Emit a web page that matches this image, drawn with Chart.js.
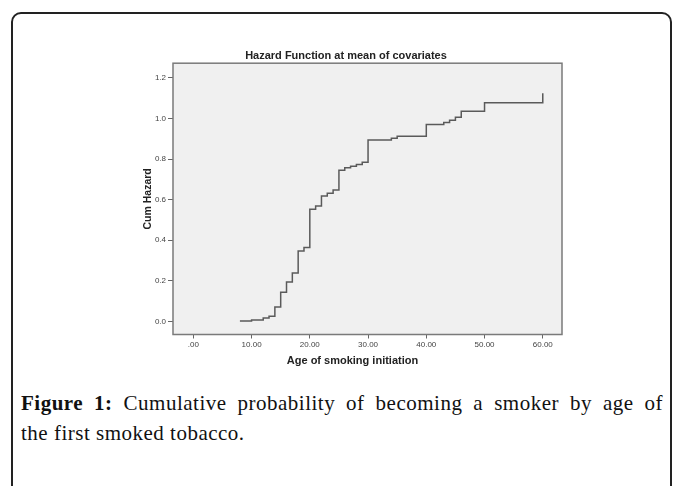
<!DOCTYPE html>
<html>
<head>
<meta charset="utf-8">
<script src="https://cdn.jsdelivr.net/npm/chart.js@4/dist/chart.umd.min.js"></script>
<style>
  html, body { margin:0; padding:0; background:#fff; width:683px; height:486px; overflow:hidden; }
  #frame { position:absolute; left:11px; top:12px; width:661px; height:500px; border:2px solid #222; border-radius:10px; box-sizing:border-box; }
  #wrap { position:absolute; left:130px; top:40px; width:436px; height:330px; }
  .cap { position:absolute; left:21px; width:642px; font-family:"Liberation Serif", serif; font-size:21px; letter-spacing:0.5px; line-height:30px; color:#111; white-space:nowrap; }
  #cap1 { top:388px; text-align:justify; text-align-last:justify; white-space:normal; }
  #cap2 { top:418px; }
</style>
</head>
<body>
<div id="frame"></div>
<div id="wrap"><canvas id="c" width="436" height="330"></canvas></div>
<div class="cap" id="cap1"><b>Figure 1:</b> Cumulative probability of becoming a smoker by age of</div>
<div class="cap" id="cap2">the first smoked tobacco.</div>
<script>
// Step points: age at which cumulative hazard steps up, and the new level
const ages   = [8, 10, 12, 13, 14, 15, 16, 17, 18, 19, 20, 21, 22, 23, 24, 25, 26, 27, 28, 29, 30, 34, 35, 40, 43, 44, 45, 46, 50, 60];
const hazard = [0.003, 0.008, 0.017, 0.026, 0.071, 0.144, 0.194, 0.239, 0.347, 0.364, 0.553, 0.569, 0.618, 0.631, 0.648, 0.745, 0.757, 0.765, 0.773, 0.784, 0.894, 0.902, 0.912, 0.970, 0.980, 0.991, 1.006, 1.035, 1.077, 1.124];
const xTicks = [0, 10, 20, 30, 40, 50, 60];
const xTickLabels = ['.00', '10.00', '20.00', '30.00', '40.00', '50.00', '60.00'];
const yTicks = [0, 0.2, 0.4, 0.6, 0.8, 1.0, 1.2];
const yTickLabels = ['0.0', '0.2', '0.4', '0.6', '0.8', '1.0', '1.2'];
const chartTitle = 'Hazard Function at mean of covariates';
const xTitle = 'Age of smoking initiation';
const yTitle = 'Cum Hazard';

const points = ages.map((a, i) => ({x: a, y: hazard[i]}));

const plotFrame = {
  id: 'plotFrame',
  beforeDatasetsDraw(chart) {
    const {ctx, chartArea: a} = chart;
    ctx.save();
    ctx.fillStyle = '#f0f0f0';
    ctx.fillRect(a.left, a.top, a.right - a.left, a.bottom - a.top);
    ctx.restore();
  },
  afterDraw(chart) {
    const {ctx, chartArea: a} = chart;
    ctx.save();
    ctx.strokeStyle = '#7a7a7a';
    ctx.lineWidth = 1.5;
    ctx.strokeRect(a.left, a.top, a.right - a.left, a.bottom - a.top);
    // x-axis title (offset left like the original)
    ctx.fillStyle = '#222';
    ctx.font = 'bold 11px "Liberation Sans", Arial, sans-serif';
    ctx.textAlign = 'center';
    ctx.textBaseline = 'middle';
    ctx.fillText(xTitle, (a.left + a.right) / 2 - 15, a.bottom + 26);
    ctx.restore();
  }
};

new Chart(document.getElementById('c'), {
  type: 'line',
  data: {
    datasets: [{
      data: points,
      stepped: 'before',
      borderColor: '#5a5a5a',
      borderWidth: 1.5,
      pointRadius: 0,
      fill: false,
      tension: 0
    }]
  },
  options: {
    responsive: false,
    animation: false,
    devicePixelRatio: 1,
    layout: { padding: { left: 0, right: 4, top: 0, bottom: 0 } },
    plugins: {
      legend: { display: false },
      tooltip: { enabled: false },
      title: {
        display: true,
        text: chartTitle,
        color: '#222',
        font: { family: '"Liberation Sans", Arial, sans-serif', size: 11, weight: 'bold' },
        padding: { top: 9, bottom: 1 }
      }
    },
    scales: {
      x: {
        type: 'linear',
        min: -3.49,
        max: 63.3,
        afterBuildTicks: s => { s.ticks = xTicks.map(v => ({value: v})); },
        afterFit: s => { s.height = 35.5; },
        ticks: {
          autoSkip: false,
          maxRotation: 0,
          padding: 1,
          color: '#444',
          font: { family: '"Liberation Sans", Arial, sans-serif', size: 8 },
          callback: (v) => xTickLabels[xTicks.indexOf(v)]
        },
        grid: { display: true, drawOnChartArea: false, drawTicks: true, tickLength: 4, color: '#666' },
        border: { display: false }
      },
      y: {
        type: 'linear',
        min: -0.064,
        max: 1.272,
        afterBuildTicks: s => { s.ticks = yTicks.map(v => ({value: v})); },
        afterFit: s => { s.width = 43; },
        ticks: {
          autoSkip: false,
          padding: 2,
          color: '#444',
          font: { family: '"Liberation Sans", Arial, sans-serif', size: 8 },
          callback: (v) => yTickLabels[yTicks.findIndex(t => Math.abs(t - v) < 1e-9)]
        },
        grid: { display: true, drawOnChartArea: false, drawTicks: true, tickLength: 5, color: '#666' },
        border: { display: false },
        title: {
          display: true,
          text: yTitle,
          color: '#222',
          font: { family: '"Liberation Sans", Arial, sans-serif', size: 10.5, weight: 'bold' },
          padding: { top: 12, bottom: 0 }
        }
      }
    }
  },
  plugins: [plotFrame]
});
</script>
</body>
</html>
